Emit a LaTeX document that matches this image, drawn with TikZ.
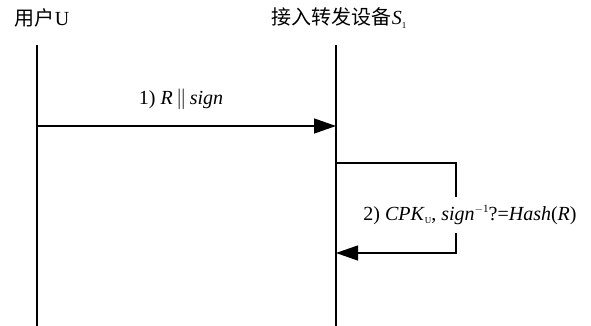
\documentclass[tikz,border=0pt]{standalone}
\usepackage{fontspec}
\setmainfont{Liberation Serif}
\newfontfamily\cjk{Noto Sans CJK SC}
\usetikzlibrary{arrows.meta}
\begin{document}
\begin{tikzpicture}[x=1pt,y=-1pt,
  lifeline/.style={line width=1.6pt},
  msg/.style={line width=1.3pt,-{Triangle[length=22pt,width=15pt]}},
  lbl/.style={font=\fontsize{20}{24}\selectfont,inner sep=0pt}]
\useasboundingbox (0,0) rectangle (591,326);
% participants
\node[lbl] (u) at (42,18) {{\cjk 用户}U};
\node[lbl] (s) at (339,18) {{\cjk 接入转发设备}\textit{S}\raisebox{-0.35ex}{\fontsize{9}{10}\selectfont 1}};
\coordinate (utop) at (37,45);
\coordinate (ubot) at (37,326);
\coordinate (stop) at (336,45);
\coordinate (sbot) at (336,326);
\draw[lifeline] (utop) -- (ubot);
\draw[lifeline] (stop) -- (sbot);
% message 1
\coordinate (m1a) at (37,126);
\coordinate (m1b) at (336,126);
\draw[msg] (m1a) -- (m1b);
\node[lbl] (l1) at (181,99) {1) \textit{R}\,$\|$\,\textit{sign}};
% message 2: self loop
\coordinate (m2a) at (336,163);
\coordinate (m2c) at (336,253);
\node[lbl] (l2) at (470,215) {2) \textit{CPK}\raisebox{-0.35ex}{\fontsize{9}{10}\selectfont U}, \textit{sign}\raisebox{0.9ex}{\fontsize{11}{12}\selectfont $-$1}?=\textit{Hash}(\textit{R})};
\draw[line width=1.3pt] (m2a) -- (456,163) -- (456,197);
\draw[msg] (456,233) -- (456,253) -- (m2c);
\end{tikzpicture}
\end{document}
